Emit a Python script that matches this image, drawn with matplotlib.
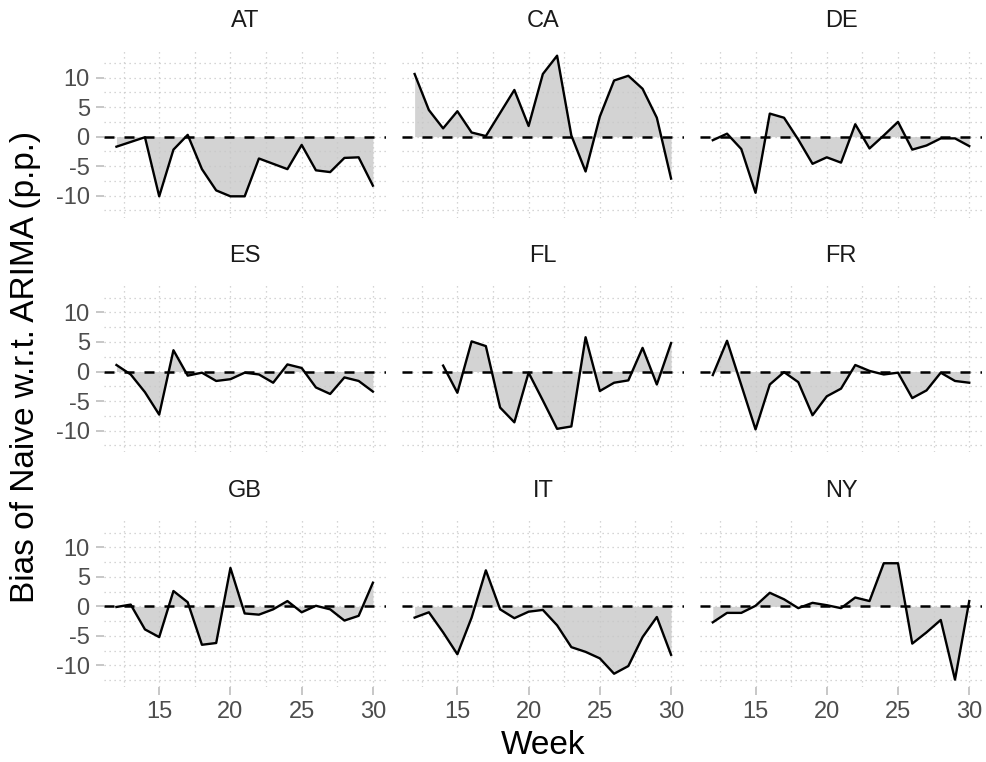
import numpy as np
import matplotlib.pyplot as plt

plt.rcParams['font.family'] = ['Liberation Sans', 'DejaVu Sans']
plt.rcParams['axes.unicode_minus'] = False

weeks = list(range(12, 31))
countries = ['AT', 'CA', 'DE', 'ES', 'FL', 'FR', 'GB', 'IT', 'NY']

at = [-1.7, -0.9, -0.1, -10.1, -2.2, 0.3, -5.5, -9.1, -10.1, -10.1, -3.7, -4.6, -5.5, -1.4, -5.7, -6.0, -3.6, -3.5, -8.3]
ca = [10.6, 4.5, 1.4, 4.3, 0.7, 0.1, 4.0, 7.9, 1.8, 10.6, 13.7, 0.2, -5.9, 3.4, 9.5, 10.3, 8.1, 3.2, -7.1]
de = [-0.6, 0.5, -2.1, -9.5, 3.9, 3.2, -0.5, -4.6, -3.5, -4.4, 2.1, -2.0, 0.2, 2.5, -2.2, -1.5, -0.3, -0.3, -1.6]
es = [1.1, -0.5, -3.5, -7.3, 3.6, -0.7, -0.2, -1.6, -1.3, -0.2, -0.5, -1.9, 1.2, 0.6, -2.7, -3.8, -1.0, -1.6, -3.4]
fl = [None, None, 1.0, -3.6, 5.1, 4.3, -6.1, -8.6, -0.2, -4.9, -9.7, -9.3, 5.8, -3.3, -1.9, -1.5, 4.0, -2.2, 4.8]
fr = [-0.6, 5.2, -2.3, -9.8, -2.2, -0.1, -1.8, -7.4, -4.2, -2.9, 1.1, 0.1, -0.5, -0.2, -4.5, -3.2, -0.2, -1.6, -1.9]
gb = [-0.1, 0.3, -3.9, -5.2, 2.6, 0.7, -6.5, -6.2, 6.5, -1.2, -1.4, -0.5, 0.9, -1.0, 0.1, -0.5, -2.4, -1.6, 4.0]
it = [-1.9, -1.0, -4.4, -8.1, -1.9, 6.1, -0.5, -2.0, -0.9, -0.6, -3.2, -6.9, -7.7, -8.8, -11.4, -10.1, -5.2, -1.8, -8.2]
ny = [-2.7, -1.1, -1.1, 0.1, 2.3, 1.2, -0.3, 0.6, 0.2, -0.3, 1.5, 0.9, 7.3, 7.3, -6.3, -4.4, -2.3, -12.4, 0.9]

series = [at, ca, de, es, fl, fr, gb, it, ny]

fig, axes = plt.subplots(3, 3, figsize=(9.87, 7.62), dpi=100, sharex=True, sharey=True)
fig.subplots_adjust(left=0.105, right=0.995, top=0.937, bottom=0.098, wspace=0.057, hspace=0.385)

for ax, name, vals in zip(axes.flat, countries, series):
    y = np.array([np.nan if v is None else v for v in vals], dtype=float)
    x = np.array(weeks, dtype=float)
    ok = ~np.isnan(y)
    ax.fill_between(x[ok], y[ok], 0, color='#d3d3d3', interpolate=True, lw=0, zorder=1)
    ax.plot(x[ok], y[ok], color='black', lw=1.7, zorder=3)
    ax.axhline(0, color='black', lw=1.8, dashes=(4, 4), zorder=2)
    ax.set_title(name, fontsize=17, color='#1a1a1a', pad=15)
    ax.set_xlim(11.1, 30.9)
    ax.set_ylim(-13.7, 15.0)
    ax.set_xticks([15, 20, 25, 30])
    ax.set_xticks([12.5, 17.5, 22.5, 27.5], minor=True)
    ax.set_yticks([-10, -5, 0, 5, 10])
    ax.set_yticks([-12.5, -7.5, -2.5, 2.5, 7.5, 12.5], minor=True)
    ax.grid(True, which='both', color='#c8c8c8', ls=(0, (1, 3)), lw=0.9, zorder=0)
    for s in ax.spines.values():
        s.set_visible(False)
    ax.tick_params(which='major', length=6, width=1.2, color='#bdbdbd', labelcolor='#4d4d4d',
                   labelsize=17, pad=4)
    ax.tick_params(which='minor', length=0)

for ax in axes[:, 1:].flat:
    ax.tick_params(axis='y', length=0)
for ax in axes[:2, :].flat:
    ax.tick_params(axis='x', length=0)

fig.text(0.55, 0.022, 'Week', fontsize=24, ha='center', va='center', color='black')
fig.text(0.026, 0.518, 'Bias of Naive w.r.t. ARIMA (p.p.)', rotation=90, fontsize=24,
         ha='center', va='center', color='black')

fig.savefig('out.png', dpi=100, facecolor='white')
